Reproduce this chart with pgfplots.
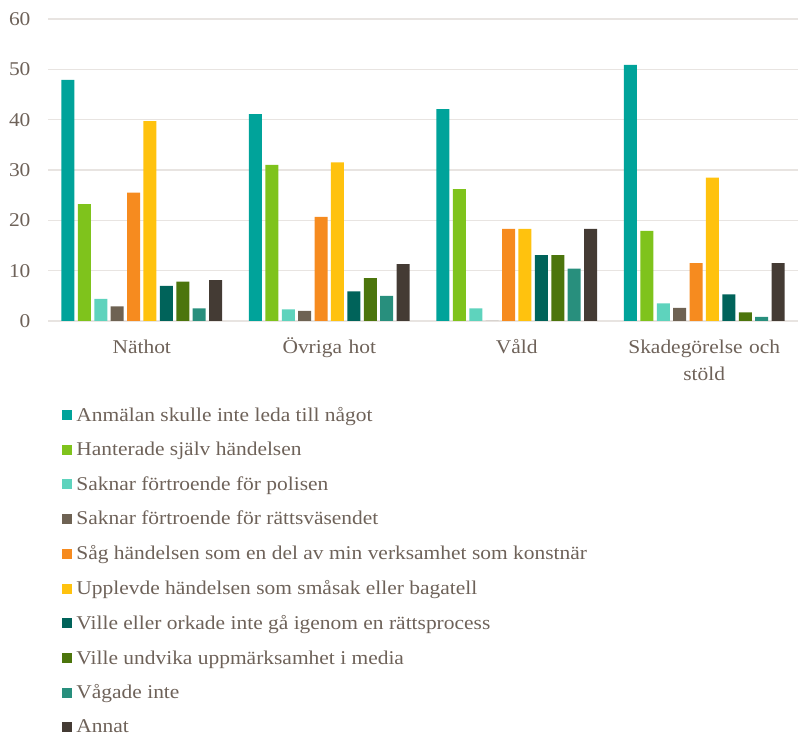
\documentclass[border=0pt]{standalone}
\usepackage{pgfplots}
\pgfplotsset{compat=1.18}
\usepackage{fontspec}
\setmainfont[FakeStretch=1.1]{Liberation Serif}
\definecolor{txt}{HTML}{6E6259}
\definecolor{gridc}{HTML}{E8E4E1}
\definecolor{c1}{HTML}{00A39A}
\definecolor{c2}{HTML}{7FC31C}
\definecolor{c3}{HTML}{5ED3BD}
\definecolor{c4}{HTML}{6E6253}
\definecolor{c5}{HTML}{F68B1F}
\definecolor{c6}{HTML}{FFC20E}
\definecolor{c7}{HTML}{00635A}
\definecolor{c8}{HTML}{4C750C}
\definecolor{c9}{HTML}{288F7D}
\definecolor{c10}{HTML}{443B34}
\newcommand{\st}{\rule{0pt}{18pt}}
\begin{document}
\begin{tikzpicture}
\path[use as bounding box] (0,0) rectangle (798pt,738pt);
\begin{axis}[
  at={(48pt,417pt)}, anchor=south west,
  scale only axis, width=750pt, height=302pt,
  ybar=3.4pt, bar width=13pt,
  xmin=-0.5, xmax=3.5, ymin=0, ymax=60,
  xtick={0,1,2,3},
  xticklabels={\st Näthot,\st Övriga hot,\st Våld,{\st Skadegörelse och\\stöld}},
  xticklabel style={align=center, text width=220pt, font=\fontsize{19.5}{27}\selectfont, text=txt, yshift=-11pt},
  ytick={0,10,...,60},
  yticklabel style={font=\fontsize{19.5}{22}\selectfont, text=txt, xshift=-14pt},
  /pgf/number format/assume math mode=true,
  ymajorgrids, xmajorgrids=false, grid style={draw=gridc, line width=1.5pt},
  axis line style={draw=none},
  axis x line*=bottom,
  axis y line*=left,
  major tick length=0pt,
  every axis plot/.append style={draw=none},
  legend cell align=left,
  legend style={at={(0.019,-0.279)}, anchor=north west, draw=none, fill=none,
    font=\fontsize{19.5}{22}\selectfont, text=txt, row sep=15.3pt,
    inner sep=0pt},
  legend image code/.code={\fill[#1] (0pt,-5pt) rectangle (10pt,5pt); \path (12pt,0pt);},
]
\draw[gridc, line width=1.5pt] (rel axis cs:0,0) -- (rel axis cs:1,0);
\addplot[fill=c1] coordinates {(0,47.9) (1,41.1) (2,42.1) (3,50.9)};
\addplot[fill=c2] coordinates {(0,23.2) (1,31.0) (2,26.2) (3,17.9)};
\addplot[fill=c3] coordinates {(0,4.4) (1,2.3) (2,2.5) (3,3.5)};
\addplot[fill=c4] coordinates {(0,2.9) (1,2.0) (2,0) (3,2.6)};
\addplot[fill=c5] coordinates {(0,25.5) (1,20.7) (2,18.3) (3,11.5)};
\addplot[fill=c6] coordinates {(0,39.7) (1,31.5) (2,18.3) (3,28.5)};
\addplot[fill=c7] coordinates {(0,7.0) (1,5.9) (2,13.1) (3,5.3)};
\addplot[fill=c8] coordinates {(0,7.8) (1,8.5) (2,13.1) (3,1.7)};
\addplot[fill=c9] coordinates {(0,2.5) (1,5.0) (2,10.4) (3,0.8)};
\addplot[fill=c10] coordinates {(0,8.1) (1,11.3) (2,18.3) (3,11.5)};
\legend{Anmälan skulle inte leda till något,Hanterade själv händelsen,Saknar förtroende för polisen,Saknar förtroende för rättsväsendet,Såg händelsen som en del av min verksamhet som konstnär,Upplevde händelsen som småsak eller bagatell,Ville eller orkade inte gå igenom en rättsprocess,Ville undvika uppmärksamhet i media,Vågade inte,Annat}
\end{axis}
\end{tikzpicture}
\end{document}
